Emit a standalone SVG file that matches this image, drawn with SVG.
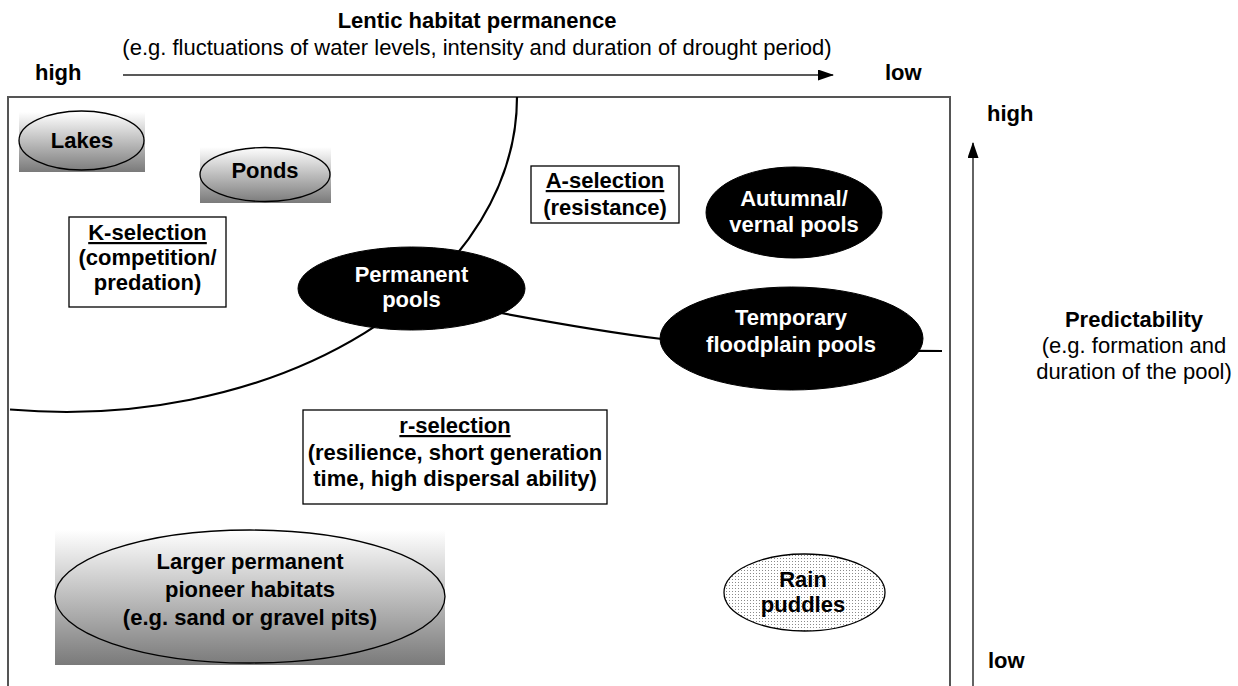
<svg xmlns="http://www.w3.org/2000/svg" width="1238" height="686" viewBox="0 0 1238 686">
<style>
text{font-family:"Liberation Sans",Arial,sans-serif;font-size:22px;fill:#000}
.b{font-weight:bold}
.c{text-anchor:middle}
.w{fill:#fff}
.u{text-decoration:underline}
.ol{fill:none;stroke:#000;stroke-width:1.3}
.blk{fill:#000;stroke:#000;stroke-width:1}
.lbl{fill:#fff;stroke:#000;stroke-width:1.3}
.cur{fill:none;stroke:#000;stroke-width:2.2}
.ax{stroke:#222;stroke-width:1.4;fill:none}
</style>
<defs>
<linearGradient id="gr" x1="0" y1="0" x2="0" y2="1">
<stop offset="0" stop-color="#ffffff"/>
<stop offset="1" stop-color="#7a7a7a"/>
</linearGradient>
<pattern id="dots" width="3" height="3" patternUnits="userSpaceOnUse">
<rect width="3" height="3" fill="#fff"/>
<rect width="1" height="1" fill="#8a8a8a"/>
</pattern>
<marker id="ah" viewBox="0 0 16 11" refX="15" refY="5.5" markerWidth="16" markerHeight="11" markerUnits="userSpaceOnUse" orient="auto">
<path d="M0,0 L16,5.5 L0,11 z" fill="#000"/>
</marker>
</defs>
<rect width="1238" height="686" fill="#fff"/>

<g id="axis-x">
<text class="b c" x="477" y="28">Lentic habitat permanence</text>
<text class="c" x="477" y="55">(e.g. fluctuations of water levels, intensity and duration of drought period)</text>
<text class="b" x="35" y="80">high</text>
<text class="b" x="885" y="80">low</text>
<line class="ax" x1="123" y1="75" x2="833" y2="75" marker-end="url(#ah)"/>
</g>

<g id="axis-y">
<text class="b" x="987" y="121">high</text>
<text class="b" x="988" y="668">low</text>
<line class="ax" x1="973" y1="690" x2="973" y2="143" stroke="#555" marker-end="url(#ah)"/>
<text class="b c" x="1134" y="327">Predictability</text>
<text class="c" x="1134" y="353">(e.g. formation and</text>
<text class="c" x="1134" y="379">duration of the pool)</text>
</g>

<rect id="frame" x="8" y="97" width="942" height="600" fill="none" stroke="#555" stroke-width="2"/>

<g id="connectors">
<path class="cur" d="M517,97 A451,315 0 0 1 10,409.5"/>
<path class="cur" d="M480,309 Q590,330 662,339 C750,349 850,351 942,351"/>
</g>

<g id="lakes">
<rect x="19" y="112" width="126" height="60" fill="url(#gr)"/>
<ellipse class="ol" cx="81.5" cy="140.5" rx="62.5" ry="29.5"/>
<text class="b c" x="82" y="148">Lakes</text>
</g>

<g id="ponds">
<rect x="200" y="147" width="131" height="56" fill="url(#gr)"/>
<ellipse class="ol" cx="265" cy="174.5" rx="65" ry="27"/>
<text class="b c" x="265" y="178">Ponds</text>
</g>

<g id="k-selection">
<rect class="lbl" x="69" y="217" width="157" height="90"/>
<text class="b c u" x="147.5" y="240">K-selection</text>
<text class="b c" x="147.5" y="265">(competition/</text>
<text class="b c" x="147.5" y="290">predation)</text>
</g>

<g id="a-selection">
<rect class="lbl" x="531" y="166" width="148" height="57"/>
<text class="b c u" x="605" y="188">A-selection</text>
<text class="b c" x="605" y="215">(resistance)</text>
</g>

<g id="permanent-pools">
<ellipse class="blk" cx="411.5" cy="288.5" rx="113.5" ry="41.5"/>
<text class="b c w" x="411.5" y="282">Permanent</text>
<text class="b c w" x="411.5" y="307">pools</text>
</g>

<g id="autumnal-pools">
<ellipse class="blk" cx="794" cy="212.5" rx="88" ry="45.5"/>
<text class="b c w" x="794" y="206">Autumnal/</text>
<text class="b c w" x="794" y="232">vernal pools</text>
</g>

<g id="temporary-pools">
<ellipse class="blk" cx="791.5" cy="338.5" rx="131.5" ry="51.5"/>
<text class="b c w" x="791" y="325">Temporary</text>
<text class="b c w" x="791" y="352">floodplain pools</text>
</g>

<g id="r-selection">
<rect class="lbl" x="303" y="410" width="304" height="94"/>
<text class="b c u" x="455" y="433">r-selection</text>
<text class="b c" x="455" y="460">(resilience, short generation</text>
<text class="b c" x="455" y="486">time, high dispersal ability)</text>
</g>

<g id="larger-pioneer">
<rect x="55" y="530" width="390" height="135" fill="url(#gr)"/>
<ellipse class="ol" cx="250" cy="596.5" rx="195" ry="66.5"/>
<text class="b c" x="250" y="569">Larger permanent</text>
<text class="b c" x="250" y="597">pioneer habitats</text>
<text class="b c" x="250" y="625">(e.g. sand or gravel pits)</text>
</g>

<g id="rain-puddles">
<ellipse cx="804.5" cy="592.5" rx="80.5" ry="38.5" fill="url(#dots)" stroke="#000" stroke-width="1.3"/>
<text class="b c" x="803" y="587">Rain</text>
<text class="b c" x="803" y="612">puddles</text>
</g>
</svg>
